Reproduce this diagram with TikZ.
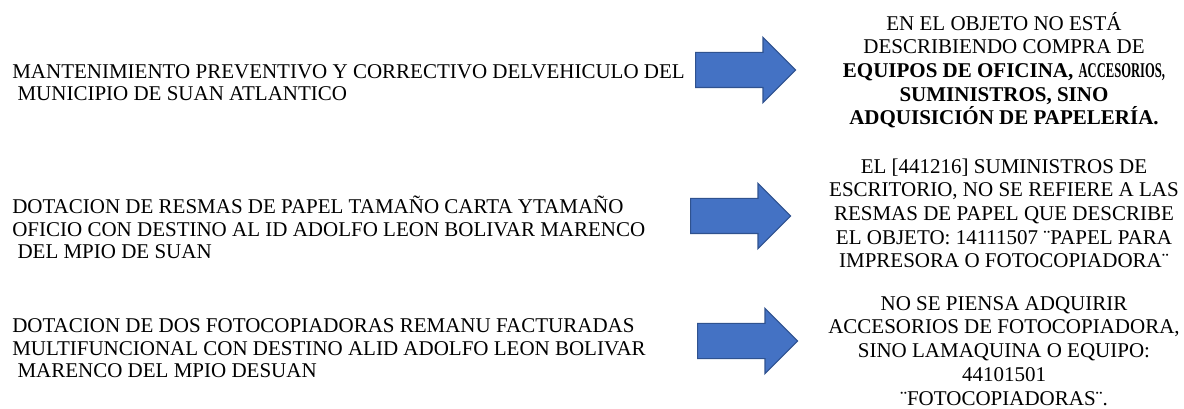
\documentclass[tikz,border=0pt]{standalone}
\usepackage{fontspec}
\setmainfont{Liberation Serif}
\usetikzlibrary{shapes.arrows}
\definecolor{flechafill}{HTML}{4472C4}
\definecolor{flechaline}{HTML}{2F528F}

\begin{document}
\begin{tikzpicture}[x=0.75pt, y=-0.75pt]
	% Define styles
	\tikzset{
		objeto/.style={inner sep=0pt, align=left, anchor=base west, font=\fontsize{15.75pt}{16.9pt}\selectfont},
		nota/.style={inner sep=0pt, align=center, anchor=base, font=\fontsize{15.75pt}{17.8pt}\selectfont},
		flecha/.style={single arrow, draw=flechaline, fill=flechafill, line width=0.9pt, minimum height=75pt, minimum width=48pt, inner xsep=0pt, inner ysep=12.75pt, single arrow head extend=11.25pt, anchor=tail}
	}
	\useasboundingbox (0,0) rectangle (1184,409);
	
	% Objetos
	\node[objeto] (obj1) at (12,101) {MANTENIMIENTO PREVENTIVO Y CORRECTIVO DELVEHICULO DEL\\ \hspace*{.25em}MUNICIPIO DE SUAN ATLANTICO};
	\node[objeto] (obj2) at (12,259) {DOTACION DE RESMAS DE PAPEL TAMAÑO CARTA YTAMAÑO\\ OFICIO CON DESTINO AL ID ADOLFO LEON BOLIVAR MARENCO\\ \hspace*{.25em}DEL MPIO DE SUAN};
	\node[objeto] (obj3) at (12,378) {DOTACION DE DOS FOTOCOPIADORAS REMANU FACTURADAS\\ MULTIFUNCIONAL CON DESTINO ALID ADOLFO LEON BOLIVAR\\ \hspace*{.25em}MARENCO DEL MPIO DESUAN};
	
	% Flechas
	\node[flecha] (fl1) at (695,70) {};
	\node[flecha] (fl2) at (690,216) {};
	\node[flecha] (fl3) at (697,341) {};
	
	% Notas
	\node[nota] (nota1) at (1004,125) {EN EL OBJETO NO ESTÁ\\ DESCRIBIENDO COMPRA DE\\ \textbf{EQUIPOS DE OFICINA, \scalebox{0.6}[1]{ACCESORIOS,}}\\ \textbf{SUMINISTROS, SINO}\\ \textbf{ADQUISICIÓN DE PAPELERÍA.}};
	\node[nota] (nota2) at (1004,268) {EL [441216] SUMINISTROS DE\\ ESCRITORIO, NO SE REFIERE A LAS\\ RESMAS DE PAPEL QUE DESCRIBE\\ EL OBJETO: 14111507 ¨PAPEL PARA\\ IMPRESORA O FOTOCOPIADORA¨};
	\node[nota] (nota3) at (1004,405) {NO SE PIENSA ADQUIRIR\\ ACCESORIOS DE FOTOCOPIADORA,\\ SINO LAMAQUINA O EQUIPO:\\ 44101501\\ ¨FOTOCOPIADORAS¨.};
\end{tikzpicture}
\end{document}
